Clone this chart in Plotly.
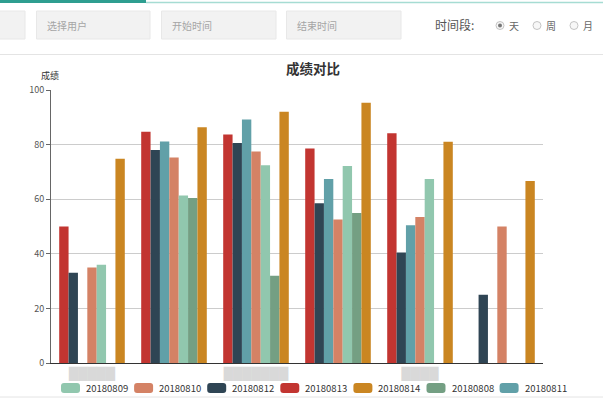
import plotly.graph_objects as go

# categories (user names are blurred in the original screenshot)
users = ["user1", "user2", "user3", "user4", "user5", "user6"]
user_labels = ["\u2588" * 5, "", "\u2588" * 7, "", "\u2588" * 4, ""]

# series, in the order the bars are drawn
dates = ["20180813", "20180812", "20180811", "20180810", "20180809", "20180808", "20180814"]
colors = ["#c23531", "#2f4554", "#61a0a8", "#d48265", "#91c7ae", "#749f83", "#ca8622"]

s_0813 = [50.0, 84.7, 83.7, 78.6, 84.2, None]
s_0812 = [33.1, 78.0, 80.6, 58.5, 40.5, 25.0]
s_0811 = [None, 81.1, 89.2, 67.4, 50.5, None]
s_0810 = [35.0, 75.3, 77.5, 52.6, 53.5, 50.0]
s_0809 = [36.0, 61.4, 72.4, 72.2, 67.4, None]
s_0808 = [None, 60.4, 32.0, 54.9, None, None]
s_0814 = [74.8, 86.4, 92.0, 95.3, 81.0, 66.7]
scores = [s_0813, s_0812, s_0811, s_0810, s_0809, s_0808, s_0814]

# legend order as shown under the chart
legend_order = ["20180809", "20180810", "20180812", "20180813", "20180814", "20180808", "20180811"]

title = "成绩对比"
y_name = "成绩"
y_ticks = [0, 20, 40, 60, 80, 100]

W, H = 603, 402
L, R, T, B = 51, 60, 90, 39
FONT = "Noto Sans CJK SC, sans-serif"


def px(x):
    # page pixel -> paper x
    return (x - L) / (W - L - R)


def py(y):
    # page pixel -> paper y
    return (H - B - y) / (H - T - B)


def rounded_rect(x0, y0, x1, y1, r):
    a, b, c, d = px(x0), px(x1), py(y0), py(y1)
    rx = r / (W - L - R)
    ry = r / (H - T - B)
    return (f"M{a + rx},{c} L{b - rx},{c} Q{b},{c} {b},{c - ry} "
            f"L{b},{d + ry} Q{b},{d} {b - rx},{d} L{a + rx},{d} "
            f"Q{a},{d} {a},{d + ry} L{a},{c - ry} Q{a},{c} {a + rx},{c} Z")


fig = go.Figure()

for name, color, vals in zip(dates, colors, scores):
    fig.add_trace(go.Bar(x=users, y=vals, name=name, marker_color=color,
                         marker_line_width=0, showlegend=False))

shapes = []
annotations = []

# page frame around the chart
shapes.append(dict(type="rect", xref="paper", yref="paper", x0=px(0), x1=px(146),
                   y0=py(0), y1=py(3), fillcolor="#2e9e90", line_width=0, layer="below"))
shapes.append(dict(type="line", xref="paper", yref="paper", x0=px(146), x1=px(W),
                   y0=py(2.5), y1=py(2.5), line=dict(color="#a6dcd3", width=1.5)))
for x0, x1 in [(-5, 25), (36.5, 150), (161.5, 276), (286.5, 401)]:
    shapes.append(dict(type="rect", xref="paper", yref="paper", x0=px(x0), x1=px(x1),
                       y0=py(11), y1=py(39), fillcolor="#f2f2f2",
                       line=dict(color="#e8e8e8", width=1), layer="below"))
for y in [54.5, 397]:
    shapes.append(dict(type="line", xref="paper", yref="paper", x0=px(0), x1=px(W),
                       y0=py(y), y1=py(y), line=dict(color="#e4e4e4", width=1)))
for i, cx in enumerate([500, 537, 574]):
    shapes.append(dict(type="circle", xref="paper", yref="paper", x0=px(cx - 4), x1=px(cx + 4),
                       y0=py(21.5), y1=py(29.5), fillcolor="#f7f7f7",
                       line=dict(color="#c4c4c4", width=1)))
    if i == 0:
        shapes.append(dict(type="circle", xref="paper", yref="paper", x0=px(cx - 2), x1=px(cx + 2),
                           y0=py(23.5), y1=py(27.5), fillcolor="#777", line_width=0))

for text, x in [("选择用户", 45), ("开始时间", 170), ("结束时间", 295)]:
    annotations.append(dict(text=text, x=px(x), y=py(25.5), xanchor="left", yanchor="middle",
                            font=dict(size=10, color="#a5a5a5")))
annotations.append(dict(text="时间段:", x=px(433), y=py(25), xanchor="left", yanchor="middle",
                        font=dict(size=12, color="#555")))
for text, x in [("天", 507), ("周", 544), ("月", 581)]:
    annotations.append(dict(text=text, x=px(x), y=py(25.5), xanchor="left", yanchor="middle",
                            font=dict(size=10, color="#666")))

# title and y axis name
annotations.append(dict(text="<b>" + title + "</b>", x=px(313), y=py(68), xanchor="center",
                        yanchor="middle", font=dict(size=13.5, color="#333")))
annotations.append(dict(text=y_name, x=px(50), y=py(75), xanchor="center", yanchor="middle",
                        font=dict(size=9, color="#333")))

# legend drawn by hand (wide rounded swatches like the original)
color_of = dict(zip(dates, colors))
for i, name in enumerate(legend_order):
    x0 = 61 + i * 73.1
    shapes.append(dict(type="path", xref="paper", yref="paper",
                       path=rounded_rect(x0, 383, x0 + 19, 393, 3),
                       fillcolor=color_of[name], line_width=0))
    annotations.append(dict(text=name, x=px(x0 + 23), y=py(388), xanchor="left",
                            yanchor="middle", font=dict(size=9.5, color="#333")))

for a in annotations:
    a.setdefault("xref", "paper")
    a.setdefault("yref", "paper")
    a.setdefault("showarrow", False)

fig.update_layout(
    width=W, height=H,
    margin=dict(l=L, r=R, t=T, b=B),
    paper_bgcolor="white", plot_bgcolor="white",
    font=dict(family=FONT, color="#333"),
    barmode="group", bargap=0.2, bargroupgap=0,
    showlegend=False,
    shapes=shapes, annotations=annotations,
)
fig.update_xaxes(
    type="category", tickmode="array", tickvals=users, ticktext=user_labels,
    tickfont=dict(family="DejaVu Sans", size=12, color="#d9d9d9"),
    showline=True, linecolor="#333", linewidth=1, showgrid=False,
    ticks="", fixedrange=True,
)
fig.update_yaxes(
    range=[0, 100], tickvals=y_ticks, showgrid=True, gridcolor="#cccccc", gridwidth=1,
    showline=True, linecolor="#666", linewidth=1, ticks="outside", ticklen=4,
    tickcolor="#666", tickfont=dict(size=9, color="#555"), zeroline=False,
)

# drop the default 8px page margin so the figure fills the window
fig.write_html("out.html", config={"displayModeBar": False},
               post_script="document.body.style.margin='0';")
